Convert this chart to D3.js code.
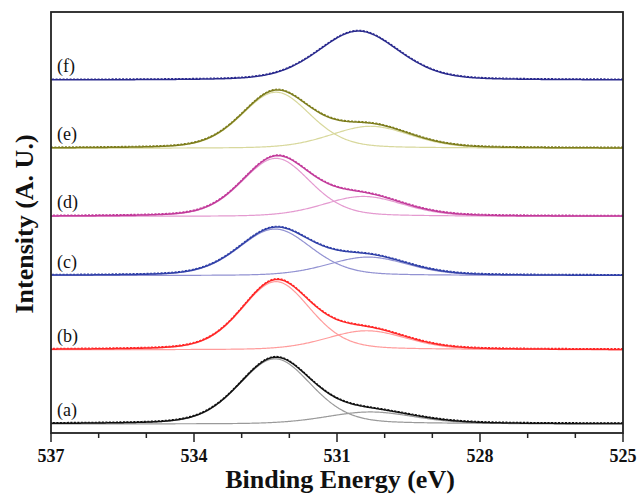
<!DOCTYPE html>
<html>
<head>
<meta charset="utf-8">
<script src="https://cdn.jsdelivr.net/npm/d3@7"></script>
<style>
  body { margin: 0; background: #fff; }
  text { font-family: "Liberation Serif", "Times New Roman", serif; }
</style>
</head>
<body>
<svg id="chart"></svg>
<script>
// samples, bottom to top
var samples = ["(a)", "(b)", "(c)", "(d)", "(e)", "(f)"];
// vertical offset of each spectrum (a.u.)
var offsets = [0.9, 8.3, 15.7, 21.6, 28.4, 35.2];

// main O 1s component: position (eV), height (a.u.), FWHM (eV)
var mainCenter = [532.3, 532.28, 532.3, 532.28, 532.28, 530.55];
var mainHeight = [6.5, 6.8, 4.65, 5.8, 5.6, 4.9];
var mainFwhm = [1.8, 1.7, 1.8, 1.7, 1.7, 2.0];

// second component (none for f)
var secondCenter = [530.3, 530.38, 530.35, 530.45, 530.3, 530.5];
var secondHeight = [1.2, 1.9, 1.85, 2.0, 2.2, 0];
var secondFwhm = [2.2, 2.0, 2.0, 2.0, 2.0, 2.0];

var xTicks = [537, 536, 535, 534, 533, 532, 531, 530, 529, 528, 527, 526, 525];
var xLabels = [537, 534, 531, 528, 525];

var fitColors = ["#111111", "#ff2626", "#3040a8", "#c23a9a", "#7d7d1c", "#2a2a8e"];
var compColors = ["#9a9a9a", "#ff9c9c", "#9292d2", "#e49ad0", "#d8d89c", "#2a2a8e"];

// Variables
var width = 639;
var height = 495;
var margin = { top: 12, right: 16, bottom: 62, left: 51 };
var mix = 0.25; // Gaussian-Lorentzian mixing

var svg = d3.select("#chart")
    .attr("width", width)
    .attr("height", height);

var x = d3.scaleLinear()
    .domain([537, 525])
    .range([margin.left, width - margin.right]);

var y = d3.scaleLinear()
    .domain([0, 42])
    .range([height - margin.bottom, margin.top]);

// pseudo-Voigt peak
function peak(e, c, h, w) {
    if (!h) return 0;
    var t = (e - c) / (w / 2);
    var t2 = t * t;
    return h * ((1 - mix) * Math.exp(-Math.LN2 * t2) + mix / (1 + t2));
}

var energies = d3.range(525, 537.0001, 0.02);

var line = d3.line()
    .x(function (d) { return x(d[0]); })
    .y(function (d) { return y(d[1]); });

samples.forEach(function (name, i) {
    var g = svg.append("g").attr("class", "spectrum");

    var comp1 = energies.map(function (e) {
        return [e, offsets[i] + peak(e, mainCenter[i], mainHeight[i], mainFwhm[i])];
    });
    var comp2 = energies.map(function (e) {
        return [e, offsets[i] + peak(e, secondCenter[i], secondHeight[i], secondFwhm[i])];
    });
    var fit = energies.map(function (e, k) {
        return [e, comp1[k][1] + comp2[k][1] - offsets[i]];
    });

    if (secondHeight[i] > 0) {
        g.append("path")
            .attr("d", line(comp1))
            .attr("fill", "none")
            .attr("stroke", compColors[i])
            .attr("stroke-width", 1.2);
        g.append("path")
            .attr("d", line(comp2))
            .attr("fill", "none")
            .attr("stroke", compColors[i])
            .attr("stroke-width", 1.2);
    }

    g.append("path")
        .attr("d", line(fit))
        .attr("fill", "none")
        .attr("stroke", fitColors[i])
        .attr("stroke-width", 1.5);

    // measured points (dotted)
    g.append("path")
        .attr("d", line(fit))
        .attr("fill", "none")
        .attr("stroke", fitColors[i])
        .attr("stroke-width", 1.1)
        .attr("stroke-dasharray", "2,1.5")
        .attr("transform", "translate(0,-0.8)");

    g.append("text")
        .attr("x", margin.left + 6)
        .attr("y", y(offsets[i]) - 8)
        .attr("font-size", "18px")
        .attr("fill", "#111")
        .text(name);
});

// ticks
var axis = svg.append("g")
    .attr("transform", "translate(0," + (height - margin.bottom) + ")");

axis.selectAll(".tick")
    .data(xTicks)
    .enter().append("line")
    .attr("x1", function (d) { return x(d); })
    .attr("x2", function (d) { return x(d); })
    .attr("y1", 0)
    .attr("y2", function (d) { return xLabels.indexOf(d) >= 0 ? 9 : 5; })
    .attr("stroke", "#222")
    .attr("stroke-width", 1.5);

axis.selectAll(".lbl")
    .data(xLabels)
    .enter().append("text")
    .attr("x", function (d) { return x(d); })
    .attr("y", 29)
    .attr("text-anchor", "middle")
    .attr("font-size", "18px")
    .attr("font-weight", "bold")
    .attr("fill", "#111")
    .text(function (d) { return d; });

// frame
svg.append("rect")
    .attr("x", margin.left)
    .attr("y", margin.top)
    .attr("width", width - margin.left - margin.right)
    .attr("height", height - margin.top - margin.bottom)
    .attr("fill", "none")
    .attr("stroke", "#222")
    .attr("stroke-width", 1.8);

svg.append("text")
    .attr("x", 340)
    .attr("y", 488)
    .attr("text-anchor", "middle")
    .attr("font-size", "26px")
    .attr("font-weight", "bold")
    .attr("fill", "#111")
    .text("Binding Energy (eV)");

svg.append("text")
    .attr("transform", "translate(33,224)rotate(-90)")
    .attr("text-anchor", "middle")
    .attr("font-size", "26px")
    .attr("font-weight", "bold")
    .attr("fill", "#111")
    .text("Intensity (A. U.)");
</script>
</body>
</html>
